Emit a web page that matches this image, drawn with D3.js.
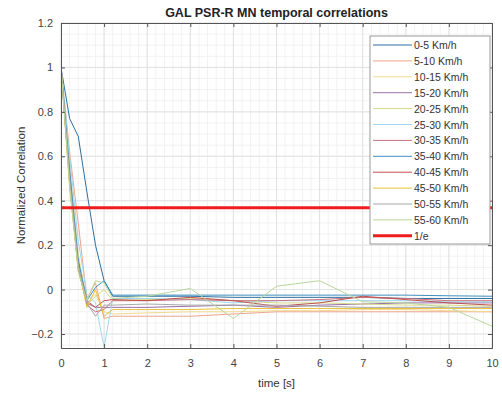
<!DOCTYPE html>
<html>
<head>
<meta charset="utf-8">
<script src="https://cdn.jsdelivr.net/npm/d3@7"></script>
<style>
  body { margin: 0; background: #fff; }
  text { font-family: "Liberation Sans", Arial, sans-serif; }
</style>
</head>
<body>
<div id="chart"></div>
<script>
const times = [0, 0.2, 0.4, 0.6, 0.8, 1, 1.2, 2, 3, 4, 5, 6, 7, 8, 9, 10]
const seriesNames = ["0-5 Km/h", "5-10 Km/h", "10-15 Km/h", "15-20 Km/h", "20-25 Km/h", "25-30 Km/h",
  "30-35 Km/h", "35-40 Km/h", "40-45 Km/h", "45-50 Km/h", "50-55 Km/h", "55-60 Km/h"]
const s0 = [1, 0.77, 0.69, 0.44, 0.20, 0.04, -0.03, -0.03, -0.03, -0.035, -0.035, -0.035, -0.035, -0.04, -0.04, -0.04]
const s1 = [1, 0.62, 0.30, -0.04, 0.03, -0.13, -0.12, -0.12, -0.12, -0.11, -0.10, -0.10, -0.10, -0.10, -0.10, -0.10]
const s2 = [1, 0.50, 0.12, -0.06, -0.02, -0.10, -0.11, -0.105, -0.10, -0.10, -0.095, -0.095, -0.09, -0.09, -0.095, -0.10]
const s3 = [1, 0.52, 0.14, -0.05, -0.08, -0.08, -0.08, -0.08, -0.075, -0.07, -0.08, -0.07, -0.065, -0.06, -0.06, -0.06]
const s4 = [1, 0.55, 0.16, -0.07, -0.03, 0.0, -0.05, -0.045, -0.04, -0.05, -0.06, -0.06, -0.065, -0.07, -0.07, -0.075]
const s5 = [1, 0.60, 0.22, -0.02, -0.06, -0.26, -0.04, -0.04, -0.045, -0.06, -0.05, -0.05, -0.05, -0.05, -0.055, -0.055]
const s6 = [1, 0.50, 0.10, -0.07, -0.10, -0.09, -0.05, -0.05, -0.045, -0.05, -0.05, -0.045, -0.035, -0.04, -0.05, -0.05]
const s7 = [1, 0.54, 0.13, -0.05, 0.01, 0.04, -0.025, -0.025, -0.025, -0.025, -0.025, -0.025, -0.025, -0.025, -0.028, -0.03]
const s8 = [1, 0.48, 0.09, -0.06, -0.08, -0.05, -0.045, -0.05, -0.035, -0.05, -0.075, -0.06, -0.03, -0.045, -0.06, -0.07]
const s9 = [1, 0.46, 0.10, -0.08, 0.0, -0.12, -0.09, -0.09, -0.09, -0.085, -0.085, -0.085, -0.085, -0.085, -0.085, -0.085]
const s10 = [1, 0.50, 0.11, -0.06, -0.12, -0.07, -0.07, -0.065, -0.07, -0.07, -0.07, -0.075, -0.08, -0.08, -0.08, -0.08]
const s11 = [1, 0.47, 0.08, -0.05, 0.04, 0.03, -0.04, -0.03, 0.005, -0.13, 0.015, 0.04, -0.055, -0.06, -0.08, -0.165]
const seriesValues = [s0, s1, s2, s3, s4, s5, s6, s7, s8, s9, s10, s11]
const seriesColors = ["#2f6f9f", "#eea58c", "#f3d98e", "#9a6fa6", "#d6d98a", "#9fd8ef",
  "#c9727f", "#3f8fc0", "#c0504d", "#e8c23a", "#a8a8a8", "#b8d89a"]
const threshold = Math.exp(-1)
const xTicks = [0, 1, 2, 3, 4, 5, 6, 7, 8, 9, 10]
const yTicks = [-0.2, 0, 0.2, 0.4, 0.6, 0.8, 1, 1.2]

const width = 502, height = 394
const margin = { left: 61, right: 10, top: 23, bottom: 46 }
const innerW = width - margin.left - margin.right
const innerH = height - margin.top - margin.bottom

const x = d3.scaleLinear().domain([0, 10]).range([0, innerW])
const y = d3.scaleLinear().domain([-0.263, 1.2]).range([innerH, 0])

const svg = d3.select("#chart").append("svg")
  .attr("width", width)
  .attr("height", height)

const g = svg.append("g").attr("transform", "translate(" + margin.left + "," + margin.top + ")")

// minor grid
const xMinor = d3.range(0, 10.001, 0.2)
const yMinor = d3.range(-0.25, 1.2001, 0.05)
g.append("g").selectAll("line").data(xMinor).enter().append("line")
  .attr("x1", d => x(d)).attr("x2", d => x(d)).attr("y1", 0).attr("y2", innerH)
  .attr("stroke", "#f2f2f2").attr("stroke-width", 1)
g.append("g").selectAll("line").data(yMinor).enter().append("line")
  .attr("y1", d => y(d)).attr("y2", d => y(d)).attr("x1", 0).attr("x2", innerW)
  .attr("stroke", "#f2f2f2").attr("stroke-width", 1)
// major grid
g.append("g").selectAll("line").data(xTicks).enter().append("line")
  .attr("x1", d => x(d)).attr("x2", d => x(d)).attr("y1", 0).attr("y2", innerH)
  .attr("stroke", "#e2e2e2").attr("stroke-width", 1)
g.append("g").selectAll("line").data(yTicks).enter().append("line")
  .attr("y1", d => y(d)).attr("y2", d => y(d)).attr("x1", 0).attr("x2", innerW)
  .attr("stroke", "#e2e2e2").attr("stroke-width", 1)

// series
const line = d3.line().x((d, i) => x(times[i])).y(d => y(d))
g.append("defs").append("clipPath").attr("id", "clip")
  .append("rect").attr("width", innerW).attr("height", innerH)
const lines = g.append("g").attr("clip-path", "url(#clip)")
seriesValues.forEach((vals, i) => {
  lines.append("path")
    .datum(vals)
    .attr("fill", "none")
    .attr("stroke", seriesColors[i])
    .attr("stroke-width", 1)
    .attr("d", line)
})
lines.append("line")
  .attr("x1", x(0)).attr("x2", x(10))
  .attr("y1", y(threshold)).attr("y2", y(threshold))
  .attr("stroke", "#ee1c1c").attr("stroke-width", 3)

// axes
const axisColor = "#555"
g.append("g").attr("transform", "translate(0," + innerH + ")")
  .call(d3.axisBottom(x).tickValues(xTicks).tickSize(-4).tickPadding(11).tickFormat(d3.format("d")))
g.append("g")
  .call(d3.axisLeft(y).tickValues(yTicks).tickSize(-4).tickPadding(8).tickFormat(d => d === 0 ? "0" : d3.format("~g")(d)))
g.append("g").call(d3.axisTop(x).tickValues(xTicks).tickSize(-4).tickFormat(""))
g.append("g").attr("transform", "translate(" + innerW + ",0)")
  .call(d3.axisRight(y).tickValues(yTicks).tickSize(-4).tickFormat(""))
g.selectAll(".domain").attr("stroke", axisColor)
g.selectAll(".tick line").attr("stroke", axisColor)
g.selectAll(".tick text").attr("fill", "#444").style("font-size", "11px")
  .style("font-family", "'Liberation Sans', Arial, sans-serif")

// labels
svg.append("text")
  .attr("x", margin.left + innerW / 2).attr("y", 17)
  .attr("text-anchor", "middle")
  .style("font-size", "12.5px").style("font-weight", "bold").attr("fill", "#222")
  .text("GAL PSR-R MN temporal correlations")
svg.append("text")
  .attr("x", margin.left + innerW / 2).attr("y", 387)
  .attr("text-anchor", "middle")
  .style("font-size", "11.5px").attr("fill", "#333")
  .text("time [s]")
svg.append("text")
  .attr("transform", "translate(25," + (margin.top + innerH / 2) + ") rotate(-90)")
  .attr("text-anchor", "middle")
  .style("font-size", "11.5px").attr("fill", "#333")
  .text("Normalized Correlation")

// legend
const legendItems = seriesNames.map((n, i) => ({ name: n, color: seriesColors[i], w: 1 }))
legendItems.push({ name: "1/e", color: "#ee1c1c", w: 3 })
const lg = svg.append("g").attr("transform", "translate(370,36)")
lg.append("rect").attr("width", 120).attr("height", 208)
  .attr("fill", "#fff").attr("stroke", "#9a9a9a").attr("stroke-width", 1)
const rowH = 15.9
const items = lg.selectAll(".item").data(legendItems).enter().append("g")
  .attr("transform", (d, i) => "translate(0," + (9 + i * rowH) + ")")
items.append("line").attr("x1", 3).attr("x2", 42).attr("y1", 0).attr("y2", 0)
  .attr("stroke", d => d.color).attr("stroke-width", d => d.w)
items.append("text").attr("x", 44).attr("y", 4)
  .style("font-size", "10.5px").attr("fill", "#333")
  .text(d => d.name)
</script>
</body>
</html>
